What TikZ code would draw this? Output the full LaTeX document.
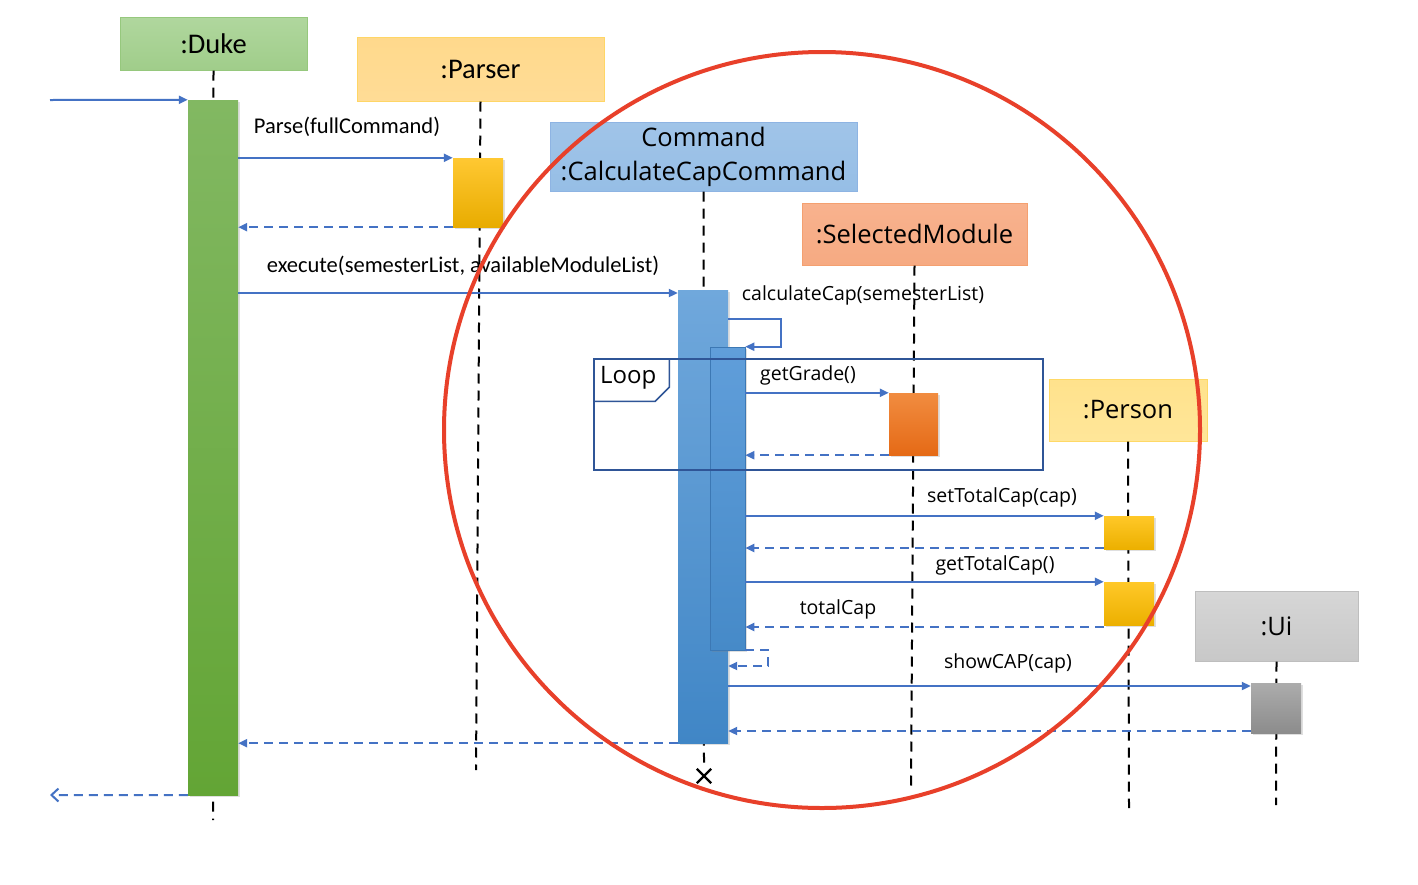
\documentclass[tikz,border=0pt]{standalone}
\usepackage{fontspec}
\setmainfont{Carlito}
\newfontfamily\segoe{Open Sans}
\usetikzlibrary{arrows.meta,calc,shapes.misc,shadows}
\definecolor{msgblue}{HTML}{4472C4}
\definecolor{frameblue}{HTML}{2F5597}
\definecolor{circred}{HTML}{E8402A}
\begin{document}
\begin{tikzpicture}[x=1pt,y=-1pt,
  hdr/.style={draw, line width=1pt, inner sep=0pt, font=\fontsize{28.5}{32}\selectfont, align=center},
  shdr/.style={hdr, font=\segoe\fontsize{25.5}{34}\selectfont},
  bar/.style={inner sep=0pt, minimum width=50, drop shadow={shadow xshift=2pt, shadow yshift=-2pt, opacity=0.25}},
  life/.style={draw=black, line width=2pt, dash pattern=on 10pt off 7pt},
  msg/.style={draw=msgblue, line width=2pt, -{Triangle[length=9pt,width=8pt]}},
  ret/.style={draw=msgblue, line width=2pt, dash pattern=on 9pt off 6pt, -{Triangle[length=9pt,width=8pt]}},
  lbl/.style={inner sep=0pt, font=\fontsize{22.5}{26}\selectfont},
  slbl/.style={inner sep=0pt, font=\segoe\fontsize{19.5}{23}\selectfont}
]
\useasboundingbox[fill=white] (0,0) rectangle (1418,884);

% headers
\node[hdr, draw={rgb,255:red,150;green,200;blue,125}, minimum width=187, minimum height=53,
  top color={rgb,255:red,176;green,215;blue,158}, bottom color={rgb,255:red,160;green,205;blue,138}] (duke) at (213.5,43.5) {:Duke};
\node[hdr, draw={rgb,255:red,255;green,214;blue,102}, minimum width=247, minimum height=64,
  top color={rgb,255:red,255;green,217;blue,140}, bottom color={rgb,255:red,255;green,220;blue,150}] (parser) at (480.5,69) {:Parser};
\node[shdr, draw={rgb,255:red,142;green,180;blue,227}, minimum width=307, minimum height=69,
  top color={rgb,255:red,160;green,196;blue,232}, bottom color={rgb,255:red,150;green,190;blue,230}] (cmd) at (703.5,156.5) {Command\\:CalculateCapCommand};
\node[shdr, draw={rgb,255:red,244;green,160;blue,112}, minimum width=225, minimum height=62,
  top color={rgb,255:red,248;green,178;blue,142}, bottom color={rgb,255:red,246;green,170;blue,130}] (sel) at (914.5,234) {:SelectedModule};
\node[shdr, draw={rgb,255:red,255;green,217;blue,102}, minimum width=158, minimum height=62,
  top color={rgb,255:red,255;green,226;blue,140}, bottom color={rgb,255:red,255;green,230;blue,153}] (person) at (1128,410) {:Person};
\node[shdr, draw={rgb,255:red,190;green,190;blue,190}, minimum width=163, minimum height=70,
  top color={rgb,255:red,214;green,214;blue,214}, bottom color={rgb,255:red,200;green,200;blue,200}] (ui) at (1276.5,626) {:Ui};

% lifeline ends
\coordinate (dukeend) at (213,820);
\coordinate (parserend) at (476,770);
\coordinate (selend) at (911,790);
\coordinate (personend) at (1129,808);
\coordinate (uiend) at (1276,805);
\node[cross out, draw=black, line width=2.4pt, minimum size=12pt, inner sep=0pt] (destroy) at (704,776) {};
\coordinate (parsertop) at (480,101);

% lifelines (drawn first, bars on top)
\draw[life] (duke.south) -- (dukeend);
\draw[life] (parser.south) -- (parserend);
\draw[life] (cmd.south) -- (destroy.north);
\draw[life] (sel.south) -- (selend);
\draw[life] (person.south) -- (personend);
\draw[life] (ui.south) -- (uiend);

% activation bars
\node[bar, minimum height=695, top color={rgb,255:red,130;green,184;blue,98}, bottom color={rgb,255:red,99;green,165;blue,53}] (dukebar) at (213,447.5) {};
\node[bar, minimum height=69, top color={rgb,255:red,255;green,200;blue,50}, bottom color={rgb,255:red,232;green,172;blue,0}] (parserbar) at (478,192.5) {};
\node[bar, minimum height=453, top color={rgb,255:red,112;green,168;blue,220}, bottom color={rgb,255:red,64;green,134;blue,198}] (cmdbar) at (703,516.5) {};
\node[bar, minimum width=35, minimum height=303, draw={rgb,255:red,60;green,120;blue,180}, line width=0.6pt,
  top color={rgb,255:red,96;green,158;blue,218}, bottom color={rgb,255:red,70;green,138;blue,200}] (nested) at (727.5,498.5) {};
\node[bar, minimum width=49, minimum height=62, top color={rgb,255:red,241;green,140;blue,64}, bottom color={rgb,255:red,229;green,106;blue,22}] (selbar) at (913.5,424) {};
\node[bar, minimum height=33, top color={rgb,255:red,255;green,200;blue,40}, bottom color={rgb,255:red,236;green,176;blue,0}] (pbar1) at (1129,532.5) {};
\node[bar, minimum height=43, top color={rgb,255:red,255;green,200;blue,40}, bottom color={rgb,255:red,236;green,176;blue,0}] (pbar2) at (1129,603.5) {};
\node[bar, minimum height=50, top color={rgb,255:red,172;green,172;blue,172}, bottom color={rgb,255:red,140;green,140;blue,140}] (uibar) at (1276,708) {};

% messages
\coordinate (start) at (50,100);
\coordinate (finish) at (50,795);
\draw[msg] (start) -- (dukebar.north west);
\draw[msg] (dukebar.east |- parserbar.north) -- (parserbar.north west);
\draw[ret] (parserbar.south west) -- (dukebar.east |- parserbar.south);
\draw[msg] (dukebar.east |- 0,293) -- (cmdbar.west |- 0,293);
\draw[msg] (cmdbar.east |- 0,319) -- ++(53,0) |- (nested.north east);
\draw[msg] (nested.east |- selbar.north) -- (selbar.north west);
\draw[ret] (selbar.south west) -- (nested.east |- selbar.south);
\draw[msg] (nested.east |- pbar1.north) -- (pbar1.north west);
\draw[ret] (pbar1.west |- 0,548) -- (nested.east |- 0,548);
\draw[msg] (nested.east |- pbar2.north) -- (pbar2.north west);
\draw[ret] (pbar2.west |- 0,627) -- (nested.east |- 0,627);
\draw[ret] (nested.south east) -- ++(23,0) |- (cmdbar.east |- 0,666);
\draw[msg] (cmdbar.east |- 0,686) -- (uibar.west |- 0,686);
\draw[ret] (uibar.west |- 0,731) -- (cmdbar.east |- 0,731);
\draw[ret] (cmdbar.south west) -- (dukebar.east |- cmdbar.south);
\draw[draw=msgblue, line width=2pt, dash pattern=on 9pt off 6pt, -{Straight Barb[length=7pt,width=13pt]}] (dukebar.south west) -- (finish);

% loop frame
\node[draw=frameblue, line width=1.5pt, minimum width=449, minimum height=111, inner sep=0pt] (loop) at (818.5,414.5) {};
\draw[frameblue, line width=1.5pt] (loop.north west) ++(76,0) -- ++(0,29) -- ++(-14,14) -- ++(-62,0);
\node[inner sep=0pt, font=\segoe\fontsize{24}{28}\selectfont, anchor=west] (looplbl) at (600,378) {Loop};

% labels
\node[lbl] (lparse) at (347,127) {Parse(fullCommand)};
\node[lbl] (lexec) at (463,266) {execute(semesterList, availableModuleList)};
\node[slbl] (lcalc) at (863,295) {calculateCap(semesterList)};
\node[slbl] (lgrade) at (808,375) {getGrade()};
\node[slbl] (lset) at (1002,497) {setTotalCap(cap)};
\node[slbl] (lget) at (995,565) {getTotalCap()};
\node[slbl] (ltot) at (838,609) {totalCap};
\node[slbl] (lshow) at (1008,663) {showCAP(cap)};

% red circle
\draw[circred, line width=4pt] (822,430) circle [radius=378];
\end{tikzpicture}
\end{document}
